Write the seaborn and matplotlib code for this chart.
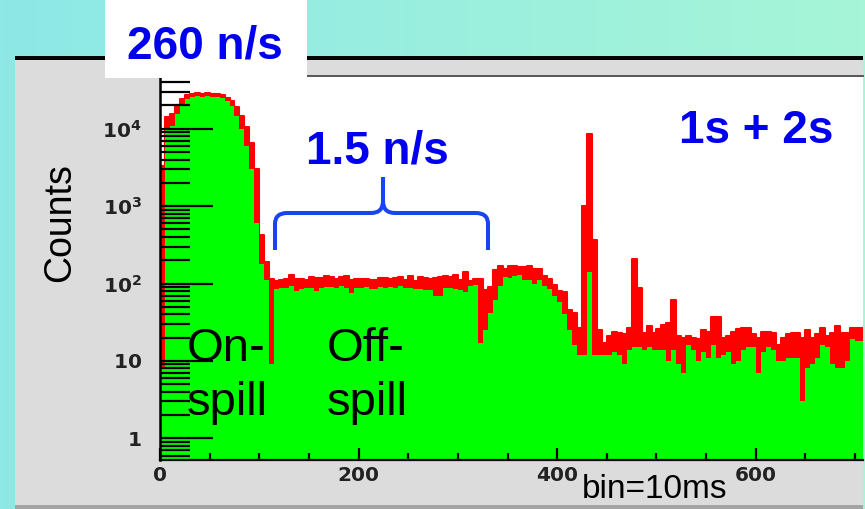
import numpy as np
import pandas as pd
import matplotlib
matplotlib.use("Agg")
import matplotlib.pyplot as plt
from matplotlib.patches import Rectangle, PathPatch
from matplotlib.path import Path
from matplotlib.colors import LinearSegmentedColormap
from matplotlib.ticker import LogLocator, MultipleLocator
import seaborn as sns

# Time axis in 10 ms bins, grouped five at a time (50 ms groups).
# For every group: the highest 10 ms bin count and the lowest one.
group_width = 5
counts_high = [
    3300, 14000, 15500, 20000, 24500, 27000, 28500, 29000, 28500, 29000,
    28500, 28000, 27500, 25000, 23000, 19000, 14500, 10500, 6500, 3000,
    420, 190, 115, 108, 112, 115, 128, 114, 115, 112,
    120, 118, 118, 124, 120, 114, 120, 125, 112, 115,
    114, 115, 112, 110, 118, 118, 116, 117, 120, 110,
    124, 108, 120, 118, 113, 118, 120, 127, 120, 130,
    110, 139, 108, 116, 116, 83, 90, 150, 168, 155,
    168, 170, 162, 162, 168, 152, 155, 126, 115, 97,
    80, 78, 45, 42, 27, 1000, 8600, 370, 25, 17,
    21, 24, 23, 22, 27, 205, 88, 23, 28, 23,
    26, 29, 31, 62, 21, 20, 21, 20, 19, 25,
    24, 37, 37, 20, 21, 24, 26, 27, 27, 22,
    20, 24, 24, 23, 16, 20, 22, 23, 23, 20,
    25, 20, 22, 27, 21, 23, 28, 23, 23, 27,
    27, 27,
]
counts_low = [
    8, 10000, 11000, 15500, 20500, 24000, 26000, 26500, 26000, 26500,
    26000, 25500, 25000, 22500, 19500, 14500, 10000, 6000, 3000, 600,
    180, 110, 9, 85, 88, 88, 92, 80, 84, 88,
    88, 80, 88, 90, 89, 88, 92, 87, 76, 88,
    87, 90, 86, 86, 90, 88, 90, 88, 92, 88,
    88, 86, 86, 83, 82, 68, 70, 88, 88, 84,
    82, 78, 92, 95, 17, 25, 42, 62, 92, 120,
    118, 124, 130, 112, 110, 98, 112, 92, 86, 70,
    58, 40, 25, 16, 12, 12, 140, 12, 12, 12,
    12, 13, 12, 9, 14, 15, 15, 14, 15, 14,
    14, 14, 10, 14, 9, 7, 16, 14, 10, 13,
    11, 16, 11, 12, 13, 9, 10, 14, 15, 15,
    7, 13, 15, 14, 10, 10, 11, 11, 11, 3,
    8, 9, 11, 16, 15, 9, 8, 8, 10, 19,
    18, 18,
]

x_tick_values = [0, 200, 400, 600]
x_tick_labels = ["0", "200", "400", "600"]
y_tick_values = [1, 10, 100, 1000, 10000]
y_tick_labels = [r"$\mathbf{1}$", r"$\mathbf{10}$", r"$\mathbf{10^{2}}$",
                 r"$\mathbf{10^{3}}$", r"$\mathbf{10^{4}}$"]

n_groups = len(counts_high)
df = pd.DataFrame({
    "t": np.arange(n_groups) * group_width + group_width / 2,
    "high": counts_high,
    "low": counts_low,
})
bin_range = (0, n_groups * group_width)

sns.set_theme(style="ticks")
plt.rcParams["font.family"] = ["Liberation Sans", "DejaVu Sans"]
plt.rcParams["mathtext.fontset"] = "dejavusans"

W, H = 865, 509
fig = plt.figure(figsize=(W / 100, H / 100), dpi=100)

# page background and the grey canvas panel (pixel coordinates)
bg = fig.add_axes([0, 0, 1, 1], zorder=-5)
bg.set_xlim(0, W)
bg.set_ylim(H, 0)
bg.axis("off")
teal = LinearSegmentedColormap.from_list("teal", ["#8de8e6", "#a6f5d7"])
bg.imshow(np.linspace(0, 1, 256).reshape(1, -1), cmap=teal,
          extent=[0, W, H, 0], aspect="auto")
bg.add_patch(Rectangle((15, 56), 848, H - 56, color="#dcdcdc", lw=0))
bg.add_patch(Rectangle((15, 55.5), 848, 4.5, color="#050505", lw=0))
bg.add_patch(Rectangle((15, 505), 848, 4, color="#a4a4a4", lw=0))

# histogram frame
ax = fig.add_axes([160 / W, (H - 460) / H, (863 - 160) / W, (460 - 76) / H])
ax.set_facecolor("white")
sns.histplot(data=df, x="t", weights="high", binwidth=group_width,
             binrange=bin_range, element="step", fill=True,
             color="#ff0000", alpha=1, linewidth=1.5, edgecolor="#ff0000",
             ax=ax)
sns.histplot(data=df, x="t", weights="low", binwidth=group_width,
             binrange=bin_range, element="step", fill=True,
             color="#00ff00", alpha=1, linewidth=0, ax=ax)
ax.set_yscale("log")
ax.set_xlim(0, 708)
ax.set_ylim(0.525, 48000)
ax.set_xlabel("")
ax.set_ylabel("")
ax.set_axisbelow(False)

ax.set_xticks(x_tick_values, x_tick_labels)
ax.xaxis.set_minor_locator(MultipleLocator(50))
ax.set_yticks(y_tick_values, y_tick_labels)
ax.yaxis.set_minor_locator(LogLocator(base=10, subs=np.arange(2, 10), numticks=30))
ax.tick_params(axis="y", which="major", direction="in", length=38, width=1.6,
               pad=13, colors="black", labelcolor="#222222", labelsize=14.5)
ax.tick_params(axis="y", which="minor", direction="in", length=21.5, width=1.6,
               colors="black")
ax.tick_params(axis="x", which="major", direction="in", length=8.6, width=1.6,
               pad=4, colors="black", labelcolor="#222222", labelsize=14.5)
ax.tick_params(axis="x", which="minor", direction="in", length=5, width=1.6,
               colors="black")
for lab in ax.get_xticklabels():
    lab.set_fontfamily("DejaVu Sans")
    lab.set_fontweight("bold")

ax.spines["left"].set_linewidth(1.8)
ax.spines["left"].set_color("black")
ax.spines["bottom"].set_linewidth(1.6)
ax.spines["bottom"].set_color("black")
ax.spines["top"].set_linewidth(1.3)
ax.spines["top"].set_color("#4a4a4a")
ax.spines["right"].set_visible(False)

# annotations layer (pixel coordinates)
ov = fig.add_axes([0, 0, 1, 1], zorder=10)
ov.set_xlim(0, W)
ov.set_ylim(H, 0)
ov.axis("off")
ov.patch.set_alpha(0)

ov.add_patch(Rectangle((105, 0), 202, 78, color="white", lw=0))
blue = "#0000ee"
bold = dict(fontfamily=["Liberation Sans", "DejaVu Sans"], fontweight="bold",
            fontsize=33, color=blue)
ov.text(205, 58, "260 n/s", ha="center", va="baseline", **bold)
ov.text(377, 163, "1.5 n/s", ha="center", va="baseline", **bold)
ov.text(756, 143, "1s + 2s", ha="center", va="baseline", **bold)

# curly brace over the off-spill interval
seg = [Path.MOVETO, Path.LINETO, Path.CURVE3, Path.CURVE3, Path.LINETO,
       Path.CURVE3, Path.CURVE3, Path.LINETO]
verts = [(275, 250), (275, 224), (275, 213), (287, 213), (371, 213),
         (383, 213), (383, 201), (383, 177),
         (383, 177), (383, 201), (383, 213), (395, 213), (476, 213),
         (488, 213), (488, 224), (488, 250)]
ov.add_patch(PathPatch(Path(verts, seg + seg), fill=False, lw=2.9,
                       edgecolor="#1a44f0", capstyle="butt", joinstyle="round"))

plain = dict(fontfamily=["Liberation Sans", "DejaVu Sans"], color="black")
ov.text(187, 361, "On-", ha="left", va="baseline", fontsize=34, **plain)
ov.text(187, 415, "spill", ha="left", va="baseline", fontsize=34, **plain)
ov.text(327, 361, "Off-", ha="left", va="baseline", fontsize=34, **plain)
ov.text(327, 415, "spill", ha="left", va="baseline", fontsize=34, **plain)
ov.text(60, 223, "Counts", ha="center", va="center", rotation=90,
        fontsize=27, **plain)
ov.text(655, 498, "bin=10ms", ha="center", va="baseline", fontsize=24, **plain)

fig.savefig("out.png", dpi=100)
